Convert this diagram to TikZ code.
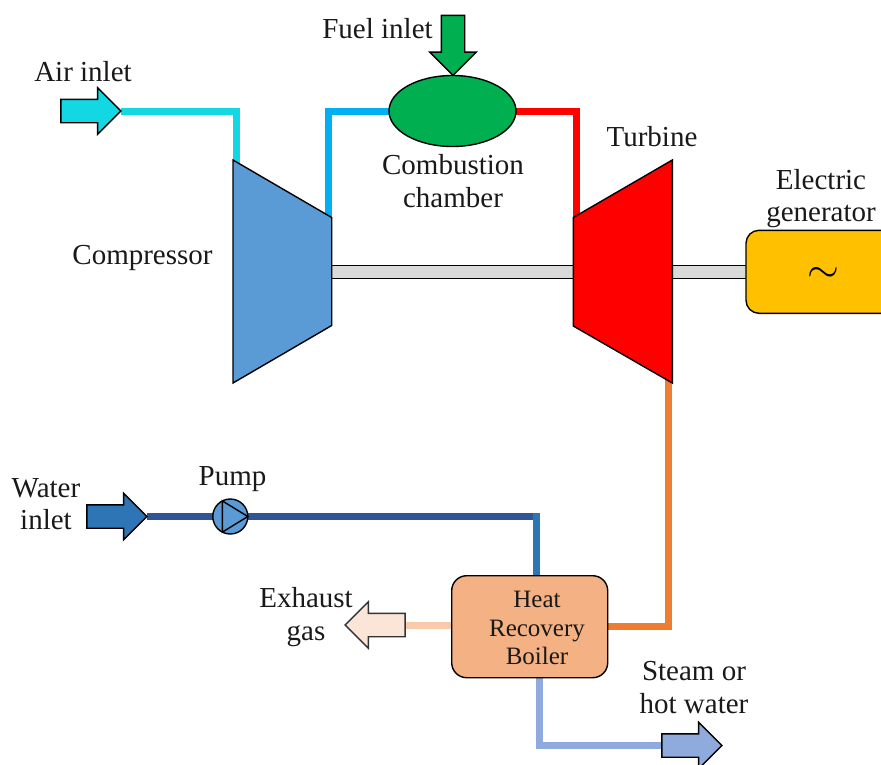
\documentclass[tikz,border=0pt]{standalone}
\usepackage{fontspec}
\usepackage{amsfonts,amssymb}
\setmainfont{Liberation Serif}
\usetikzlibrary{shapes.geometric,shapes.arrows,backgrounds}
\definecolor{airblue}{HTML}{13D8E4}
\definecolor{hotblue}{HTML}{00B0F0}
\definecolor{compblue}{HTML}{5B9BD5}
\definecolor{chambergreen}{HTML}{00B050}
\definecolor{genyellow}{HTML}{FFC000}
\definecolor{shaftgray}{HTML}{D9D9D9}
\definecolor{gasorange}{HTML}{ED7D31}
\definecolor{boilerorange}{HTML}{F4B183}
\definecolor{exhaustpipe}{HTML}{F8CBAD}
\definecolor{exhaustfill}{HTML}{FBE5D6}
\definecolor{waterdark}{HTML}{2F5597}
\definecolor{watermid}{HTML}{2E75B6}
\definecolor{steamblue}{HTML}{8FAADC}

\begin{document}
\begin{tikzpicture}[x=1pt,y=-1pt]
    \tikzstyle{pipe}=[line width=7pt]
    \tikzstyle{outline}=[draw=black, line width=1.4pt, inner sep=0pt, outer sep=0pt]
    \tikzstyle{blockarrow}=[outline, single arrow, single arrow head extend=11.5pt, single arrow head indent=0pt, minimum width=45pt, minimum height=60pt, text height=22pt, text depth=0pt]
    \tikzstyle{shaft}=[line width=1.4pt, double=shaftgray, double distance=11.5pt]
    \tikzstyle{label}=[font=\fontsize{29}{32.5}\selectfont, align=center, inner sep=0pt, text=black!90]
    \clip (0,0) rectangle (881,764);
    \useasboundingbox (0,0) rectangle (881,764);

    \coordinate (comptl) at (233,160);
    \coordinate (comptr) at (331.7,217.5);
    \coordinate (compbr) at (331.7,325.5);
    \coordinate (compbl) at (233,383);
    \coordinate (turbtl) at (672.3,160);
    \coordinate (turbtr) at (573.3,217.5);
    \coordinate (turbbr) at (573.3,326);
    \coordinate (turbbl) at (672.3,383);
    \coordinate (compin) at (236,170);
    \coordinate (compout) at (328.7,225);
    \coordinate (turbin) at (576.8,225);
    \coordinate (turbout) at (668.7,375);
    \coordinate (compshaft) at (331.7,271.8);
    \coordinate (turbshaftl) at (573.3,271.8);
    \coordinate (turbshaftr) at (672.3,271.8);
    \coordinate (waterbend) at (536.8,516.5);
    \coordinate (watertop) at (536.8,513);
    \coordinate (steamout) at (539.5,670);

    \node[blockarrow, fill=airblue] (airarrow) at (85,111) {};
    \node[blockarrow, fill=chambergreen, shape border rotate=270, text height=0pt, text width=22pt] (fuelarrow) at (453,39.5) {};
    \node[blockarrow, fill=watermid] (waterarrow) at (111,516.5) {};
    \node[blockarrow, fill=exhaustfill, shape border rotate=180, draw=black!80] (exhaustarrow) at (381,625) {};
    \node[blockarrow, fill=steamblue] (steamarrow) at (686,745.5) {};
    \node[outline, ellipse, fill=chambergreen, minimum width=127pt, minimum height=71pt] (chamber) at (452.5,111) {};
    \node[outline, rectangle, rounded corners=13pt, fill=genyellow, minimum width=154pt, minimum height=83pt] (generator) at (823,271.8) {};
    \node[outline, rectangle, rounded corners=15pt, fill=boilerorange, minimum width=156pt, minimum height=102pt] (boiler) at (529.7,626.7) {};
    \node[outline, circle, fill=compblue, minimum size=35pt] (pump) at (230.3,516.5) {};

    \begin{scope}[on background layer]
    \draw[pipe, airblue] (airarrow.tip) -| (compin);
    \draw[pipe, hotblue] (compout) |- (chamber.west);
    \draw[pipe, red] (chamber.east) -| (turbin);
    \draw[pipe, gasorange] (turbout) |- (boiler.east);
    \draw[pipe, waterdark] (waterarrow.tip) -- (pump.west);
    \draw[pipe, waterdark] (pump.east) -- (waterbend);
    \draw[pipe, watermid] (watertop) -- (watertop |- boiler.north);
    \draw[pipe, exhaustpipe] (exhaustarrow.tail) -- (exhaustarrow.tail -| boiler.west);
    \draw[pipe, steamblue] (steamout) |- (steamarrow.tail);
    \draw[shaft] (compshaft) -- (turbshaftl);
    \draw[shaft] (turbshaftr) -- (generator.west);
    \end{scope}

    \draw[outline, fill=compblue] (comptl) -- (comptr) -- (compbr) -- (compbl) -- cycle;
    \draw[outline, fill=red] (turbtl) -- (turbtr) -- (turbbr) -- (turbbl) -- cycle;
    \draw[outline] (pump.117) -- (pump.243) -- (pump.east) -- cycle;

    \node[inner sep=0pt] (gentilde) at (823,274.5) {\scalebox{4.1}{$\sim$}};
    \node[label] (airlabel) at (83,72) {Air inlet};
    \node[label] (fuellabel) at (377.5,29) {Fuel inlet};
    \node[label] (complabel) at (142.5,258) {Compressor};
    \node[label] (chamberlabel) at (453,181) {Combustion\\chamber};
    \node[label] (turblabel) at (652,137) {Turbine};
    \node[label] (genlabel) at (821,198.5) {Electric\\generator};
    \node[label] (pumplabel) at (232.5,479) {Pump};
    \node[label] (waterlabel) at (46,504) {Water\\inlet};
    \node[label] (exhaustlabel) at (306,617) {Exhaust\\gas};
    \node[label] (steamlabel) at (694,687.5) {Steam or\\hot water};
    \node[label, font=\fontsize{25}{28.5}\selectfont] (boilerlabel) at (537,628) {Heat\\Recovery\\Boiler};
\end{tikzpicture}
\end{document}
